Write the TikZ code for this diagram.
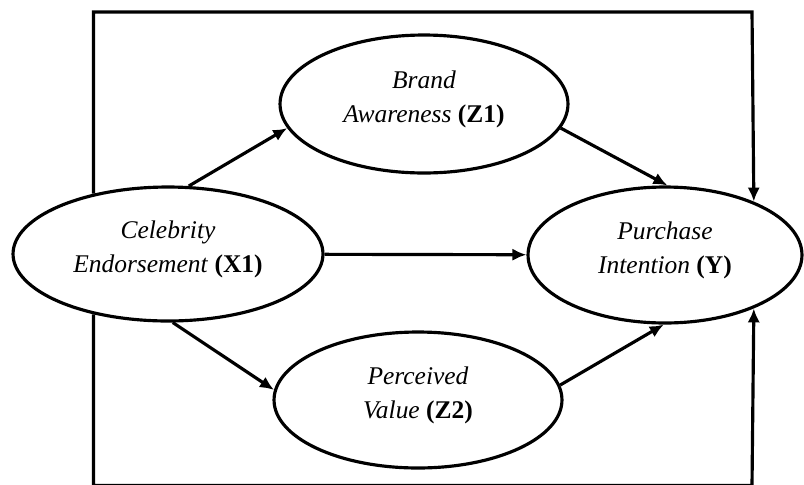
\documentclass[tikz,border=0pt]{standalone}
\usepackage{fontspec}
\setmainfont{Liberation Serif}
\usetikzlibrary{shapes.geometric,arrows.meta}
\begin{document}
\begin{tikzpicture}[x=0.02cm,y=-0.02cm,
    construct/.style={ellipse,draw,line width=1.8pt,fill=white,inner sep=0pt,
      align=center,font=\fontsize{14.5}{19.5}\selectfont},
    path/.style={line width=1.8pt,-{Latex[length=8pt,width=7pt]}}]
  \useasboundingbox (0,0) rectangle (804,484);
  \node[construct,minimum width=6.2cm,minimum height=2.68cm] (X1) at (168,254)
    {\textit{Celebrity}\\\textit{Endorsement} \textbf{(X1)}\\[-11pt]};
  \node[construct,minimum width=5.76cm,minimum height=2.76cm] (Z1) at (424,104)
    {\textit{Brand}\\\textit{Awareness} \textbf{(Z1)}\\[-11pt]};
  \node[construct,minimum width=5.76cm,minimum height=2.72cm] (Z2) at (418,400)
    {\textit{Perceived}\\\textit{Value} \textbf{(Z2)}\\[-11pt]};
  \node[construct,minimum width=5.48cm,minimum height=2.72cm] (Y) at (665,255)
    {\textit{Purchase}\\\textit{Intention} \textbf{(Y)}\\[-11pt]};
  \coordinate (tr) at (752,12);
  \coordinate (br) at (752,485.5);
  \begin{scope}
    \draw[path] (X1.73) -- (Z1.190);
    \draw[path] (X1.-86) -- (Z2.176);
    \draw[path] (X1) -- (Y);
    \draw[path] (Z1.-10) -- (Y.88);
    \draw[path] (Z2.6) -- (Y.-91);
    % direct paths round the model
    \draw[path] (X1.141) |- (tr) -- (Y.31);
    \draw[path] (X1.-141) |- (br) -- (Y.-31);
  \end{scope}
\end{tikzpicture}
\end{document}
